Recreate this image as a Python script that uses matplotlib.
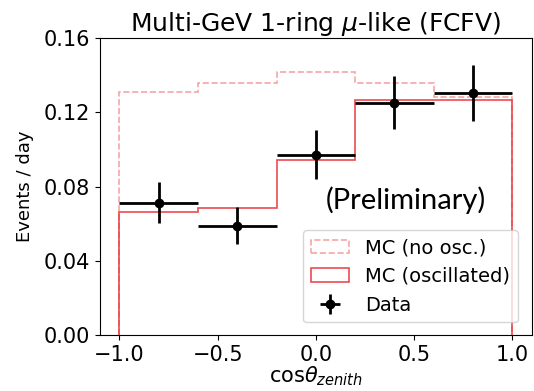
import numpy as np
import matplotlib.pyplot as plt

bin_edges = [-1.0, -0.6, -0.2, 0.2, 0.6, 1.0]
bin_centers = [-0.8, -0.4, 0.0, 0.4, 0.8]
mc_no_osc = [0.131, 0.136, 0.1415, 0.1355, 0.128]
mc_osc = [0.0663, 0.0682, 0.0945, 0.1267, 0.1268]
data = [0.0712, 0.059, 0.0972, 0.125, 0.1302]
data_err = [0.011, 0.010, 0.013, 0.0143, 0.015]

fig = plt.figure(figsize=(5.34, 3.91), dpi=100)
ax = fig.add_axes([0.187, 0.143, 0.809, 0.760])

ax.hist(bin_centers, bins=bin_edges, weights=mc_no_osc, histtype='step',
        color='#f08080', alpha=0.7, linestyle='--', linewidth=1.2,
        label='MC (no osc.)')
ax.hist(bin_centers, bins=bin_edges, weights=mc_osc, histtype='step',
        color='#e8383d', alpha=0.9, linewidth=1.2,
        label='MC (oscillated)')
ax.errorbar(bin_centers, data, yerr=data_err, xerr=0.2, fmt='o',
            color='black', markersize=6, elinewidth=2, label='Data')

ax.set_xlim(-1.1, 1.1)
ax.set_ylim(0, 0.16)
ax.set_yticks([0.0, 0.04, 0.08, 0.12, 0.16])
ax.set_xticks([-1.0, -0.5, 0.0, 0.5, 1.0])
ax.tick_params(labelsize=15)
ax.set_ylabel('Events / day', fontsize=13, labelpad=7)
ax.set_xlabel(r'cos$\theta_{zenith}$', fontsize=15, labelpad=0)
ax.set_title(r'Multi-GeV 1-ring $\mu$-like (FCFV)', fontsize=18, pad=5)

ax.legend(loc='lower right', fontsize=14, bbox_to_anchor=(0.99, 0.01))
ax.text(0.457, 0.0726, '(Preliminary)', fontsize=21, family='Lato',
        ha='center', va='center')

fig.savefig('out.png', dpi=100)
